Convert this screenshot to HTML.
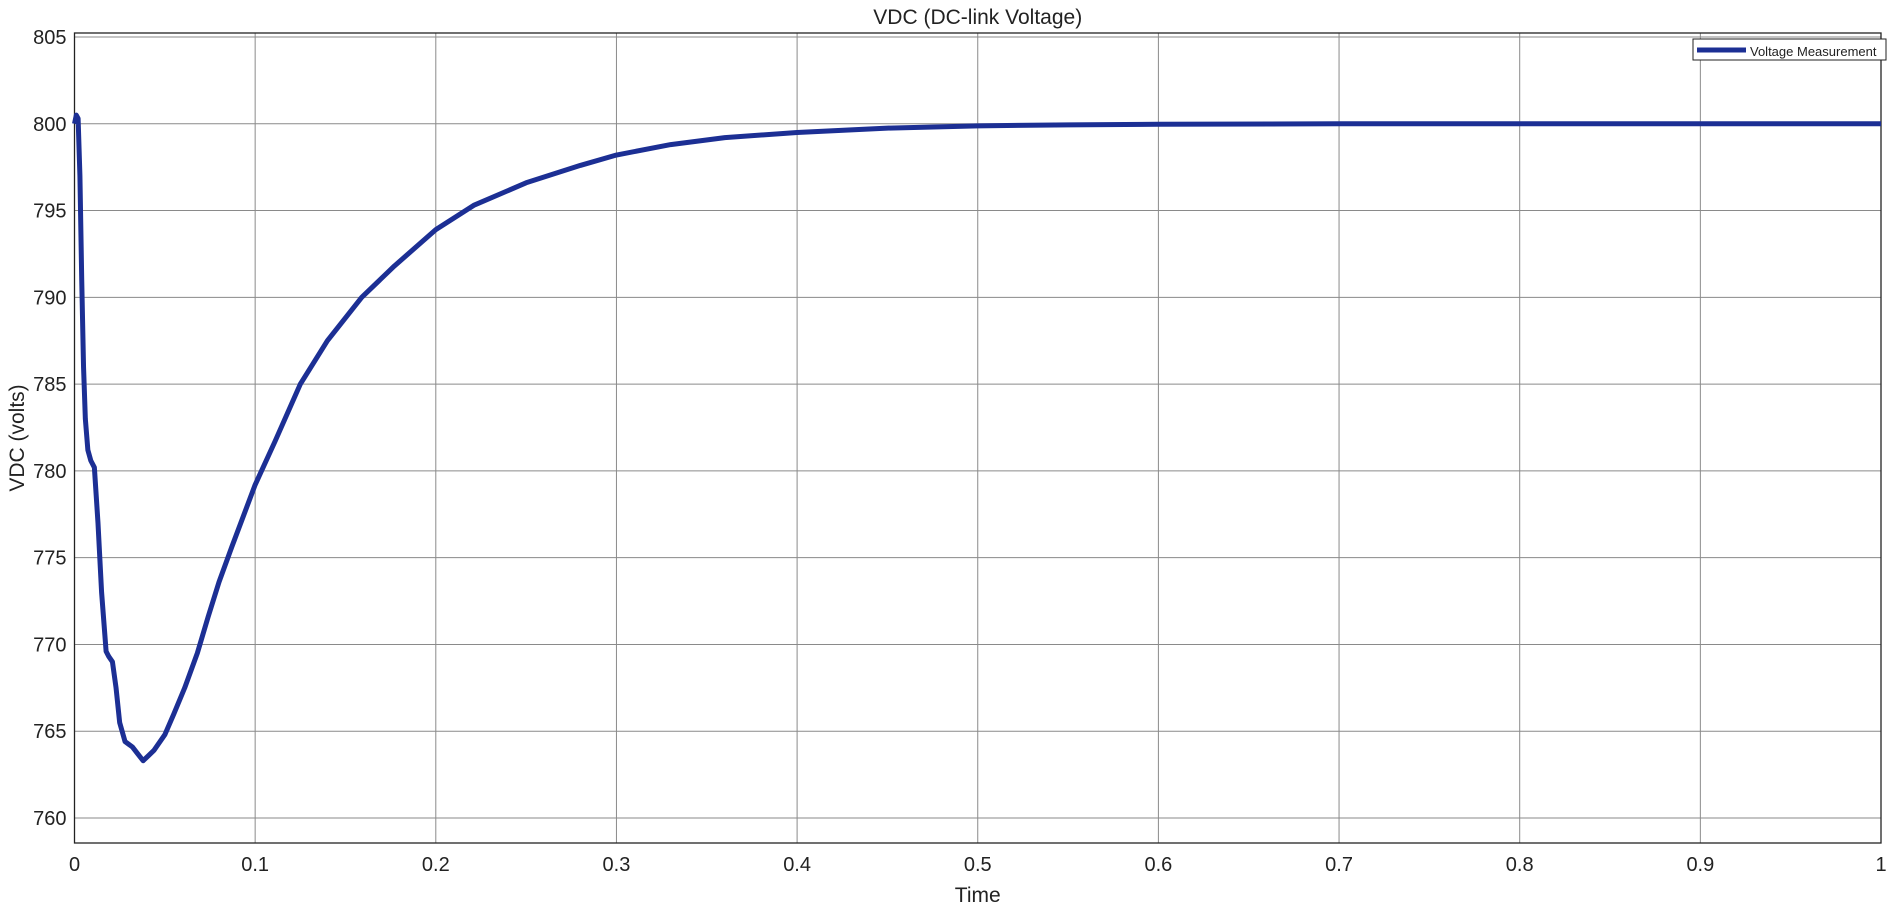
<!DOCTYPE html>
<html><head><meta charset="utf-8"><style>
body{margin:0;background:#fff;}
svg text{font-family:"Liberation Sans",Arial,sans-serif;fill:#222;}
</style></head><body>
<svg id="c" width="1902" height="906"></svg>
<script>
const times=[0,0.001,0.002,0.003,0.004,0.005,0.006,0.0074,0.009,0.011,0.013,0.015,0.0175,0.019,0.021,0.023,0.025,0.028,0.032,0.035,0.038,0.041,0.044,0.05,0.055,0.061,0.068,0.074,0.08,0.087,0.1,0.111,0.125,0.14,0.159,0.177,0.2,0.221,0.25,0.28,0.3,0.33,0.36,0.4,0.45,0.5,0.55,0.6,0.7,0.8,0.9,1.0];
const volts=[800,800.5,800.3,797,791,786,783,781.2,780.6,780.2,777,773,769.6,769.3,769,767.5,765.5,764.4,764.1,763.7,763.3,763.6,763.9,764.8,766,767.5,769.5,771.6,773.6,775.6,779.2,781.7,785,787.5,790,791.8,793.9,795.3,796.6,797.6,798.2,798.8,799.2,799.5,799.75,799.88,799.94,799.97,800,800,800,800];
const xTicks=[0,0.1,0.2,0.3,0.4,0.5,0.6,0.7,0.8,0.9,1];
const xTickLabels=["0","0.1","0.2","0.3","0.4","0.5","0.6","0.7","0.8","0.9","1"];
const yTicks=[760,765,770,775,780,785,790,795,800,805];
const yTickLabels=["760","765","770","775","780","785","790","795","800","805"];
const L=74.5,R=1881,T=33,B=843;
const x=t=>L+(t-0)/(1-0)*(R-L);
const Y805=37,Y760=818;
const y=v=>Y760-(v-760)*(Y760-Y805)/45;
const ns="http://www.w3.org/2000/svg";
const svg=document.getElementById('c');
function mk(tag,attrs,parent){const e=document.createElementNS(ns,tag);for(const k in attrs)e.setAttribute(k,attrs[k]);(parent||svg).appendChild(e);return e;}
const bg=mk('rect',{x:L,y:T,width:R-L,height:B-T,fill:'#fff'});


xTicks.forEach((t,i)=>{
 const g=mk('line',{x1:x(t),x2:x(t),y1:T,y2:B,stroke:'#8a8a8a','stroke-width':1});
 
 
 const tx=mk('text',{x:x(t),y:871,'font-size':20,'text-anchor':'middle'});tx.textContent=xTickLabels[i];
 
 
});
yTicks.forEach((v,i)=>{
 const g=mk('line',{x1:L,x2:R,y1:y(v),y2:y(v),stroke:'#8a8a8a','stroke-width':1});
 
 
 const tx=mk('text',{x:L-8,y:y(v)+7,'font-size':20,'text-anchor':'end'});tx.textContent=yTickLabels[i];
 
 
});
const fr=mk('rect',{x:L,y:T,width:R-L,height:B-T,fill:'none',stroke:'#222','stroke-width':1.3});


const line=mk('polyline',{points:times.map((t,i)=>x(t)+','+y(volts[i])).join(' '),fill:'none',stroke:'#1c2f94','stroke-width':5,'stroke-linejoin':'round'});


const title=mk('text',{x:(L+R)/2,y:24,'font-size':21,'text-anchor':'middle'});title.textContent='VDC (DC-link Voltage)';


const xt=mk('text',{x:(L+R)/2,y:902,'font-size':21,'text-anchor':'middle'});xt.textContent='Time';


const yt=mk('text',{x:0,y:0,'font-size':21,'text-anchor':'middle',transform:'translate(24,'+((T+B)/2)+') rotate(-90)'});yt.textContent='VDC (volts)';


const lg=mk('g',{});


mk('rect',{x:1693,y:39,width:193,height:21,fill:'#fff',stroke:'#222','stroke-width':1},lg);
mk('line',{x1:1697,x2:1746,y1:50,y2:50,stroke:'#1c2f94','stroke-width':5},lg);
const lt=mk('text',{x:1750,y:56,'font-size':13},lg);lt.textContent='Voltage Measurement';


</script>
</body></html>
